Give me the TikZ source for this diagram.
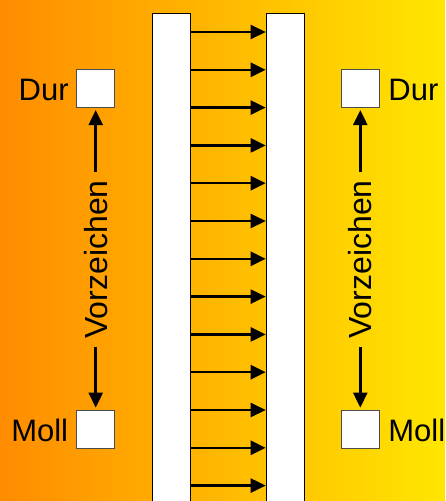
\documentclass[tikz,border=0pt]{standalone}
\usepackage{fontspec}
\setmainfont{Liberation Sans}
\usetikzlibrary{arrows.meta,positioning}
\definecolor{bgl}{RGB}{255,140,0}
\definecolor{bgr}{RGB}{255,230,0}
\begin{document}
\begin{tikzpicture}[x=1pt,y=-1pt,
  bar/.style={draw=black, line width=0.8pt, fill=white, minimum width=38pt, minimum height=510pt, inner sep=0pt, anchor=north west},
  box/.style={draw=black!70, line width=0.8pt, fill=white, minimum size=38pt, inner sep=0pt},
  lbl/.style={font=\fontsize{31}{36}\selectfont, inner sep=0pt},
  arr/.style={line width=2.5pt, -{Triangle[length=15pt,width=14pt]}}
]
\useasboundingbox (0,0) rectangle (445,501);
\shade[left color=bgl, right color=bgr] (0,0) rectangle (445,501);
% bars
\node[bar] (lbar) at (152,13.3) {};
\node[bar] (rbar) at (265.7,13.3) {};
\foreach \i in {0,...,12} {
  \coordinate (a\i) at (0,{32+37.8*\i});
  \draw[arr] (lbar.east |- a\i) -- (rbar.west |- a\i);
}
% left side
\node[box] (ld) at (95.7,88.7) {};
\node[box] (lm) at (95.7,429) {};
\node[lbl, left=7.5pt of ld, yshift=-1.5pt] (ldt) {Dur};
\node[lbl, left=8pt of lm, yshift=-1.5pt] (lmt) {Moll};
\node[lbl, rotate=90, inner xsep=8pt, font=\fontsize{32}{36}\selectfont] (lv) at (95.7,259.5) {Vorzeichen};
\draw[arr, shorten >=2pt] (lv.east) -- (ld.south);
\draw[arr, shorten >=2pt] (lv.west) -- (lm.north);
% right side
\node[box] (rd) at (360.3,88.7) {};
\node[box] (rm) at (360.3,429) {};
\node[lbl, right=8.5pt of rd, yshift=-1.5pt] (rdt) {Dur};
\node[lbl, right=8.5pt of rm, yshift=-1.5pt] (rmt) {Moll};
\node[lbl, rotate=90, inner xsep=8pt, font=\fontsize{32}{36}\selectfont] (rv) at (360.3,259.5) {Vorzeichen};
\draw[arr, shorten >=2pt] (rv.east) -- (rd.south);
\draw[arr, shorten >=2pt] (rv.west) -- (rm.north);
\end{tikzpicture}
\end{document}
